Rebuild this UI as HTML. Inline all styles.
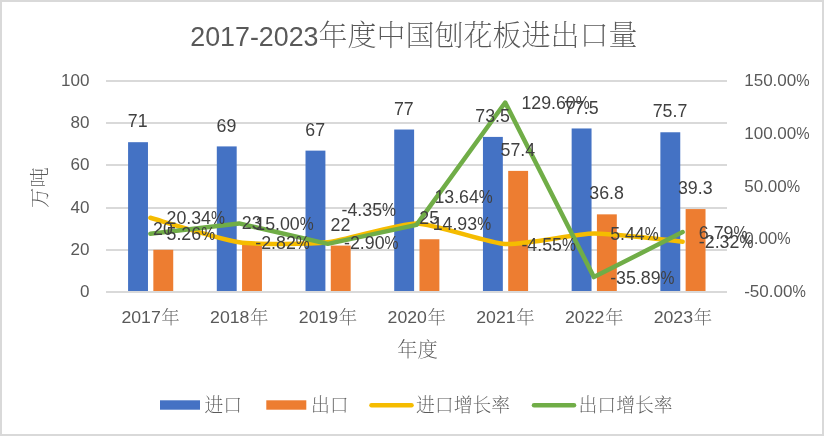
<!DOCTYPE html>
<html lang="zh"><head><meta charset="utf-8"><title>2017-2023年度中国刨花板进出口量</title>
<style>html,body{margin:0;padding:0;background:#fff}body{width:824px;height:436px;overflow:hidden}svg{display:block}
text{font-family:"Liberation Sans","Noto Serif CJK SC",sans-serif;fill:#595959}
.cj{font-family:"Noto Serif CJK SC","Liberation Serif",serif;font-weight:200}
.dl{fill:#404040}
</style></head><body>
<svg width="824" height="436" viewBox="0 0 824 436">
<rect x="0" y="0" width="824" height="436" fill="#ffffff"/>
<rect x="1" y="1" width="822" height="434" fill="none" stroke="#d9d9d9" stroke-width="2"/>
<line x1="106.00" y1="292.00" x2="727.00" y2="292.00" stroke="#d9d9d9" stroke-width="2"/>
<line x1="106.00" y1="250.00" x2="727.00" y2="250.00" stroke="#d9d9d9" stroke-width="2"/>
<line x1="106.00" y1="208.00" x2="727.00" y2="208.00" stroke="#d9d9d9" stroke-width="2"/>
<line x1="106.00" y1="165.00" x2="727.00" y2="165.00" stroke="#d9d9d9" stroke-width="2"/>
<line x1="106.00" y1="123.00" x2="727.00" y2="123.00" stroke="#d9d9d9" stroke-width="2"/>
<line x1="106.00" y1="81.00" x2="727.00" y2="81.00" stroke="#d9d9d9" stroke-width="2"/>
<rect x="128.08" y="142.19" width="19.89" height="148.81" fill="#4472c4"/>
<rect x="153.34" y="249.80" width="19.89" height="41.20" fill="#ed7d31"/>
<rect x="216.80" y="146.41" width="19.89" height="144.59" fill="#4472c4"/>
<rect x="242.06" y="243.47" width="19.89" height="47.53" fill="#ed7d31"/>
<rect x="305.51" y="150.63" width="19.89" height="140.37" fill="#4472c4"/>
<rect x="330.77" y="245.58" width="19.89" height="45.42" fill="#ed7d31"/>
<rect x="394.22" y="129.53" width="19.89" height="161.47" fill="#4472c4"/>
<rect x="419.49" y="239.25" width="19.89" height="51.75" fill="#ed7d31"/>
<rect x="482.94" y="136.91" width="19.89" height="154.09" fill="#4472c4"/>
<rect x="508.20" y="170.89" width="19.89" height="120.11" fill="#ed7d31"/>
<rect x="571.65" y="128.47" width="19.89" height="162.53" fill="#4472c4"/>
<rect x="596.91" y="214.35" width="19.89" height="76.65" fill="#ed7d31"/>
<rect x="660.37" y="132.27" width="19.89" height="158.73" fill="#4472c4"/>
<rect x="685.63" y="209.08" width="19.89" height="81.92" fill="#ed7d31"/>
<path d="M150.36 217.79 C159.23 220.23 221.33 239.77 239.07 242.23 C256.81 244.68 310.04 244.18 327.79 242.31 C345.53 240.44 398.76 223.32 416.50 223.50 C434.24 223.67 487.47 243.05 505.21 244.05 C522.96 245.05 576.19 233.75 593.93 233.51 C611.67 233.28 673.77 240.88 682.64 241.70" fill="none" stroke="#f5bc00" stroke-width="4.5" stroke-linecap="round" stroke-linejoin="round"/>
<polyline points="150.36,233.70 239.07,223.43 327.79,243.84 416.50,224.86 505.21,102.52 593.93,277.11 682.64,232.09" fill="none" stroke="#70ad47" stroke-width="4.5" stroke-linecap="round" stroke-linejoin="round"/>
<text x="80.02" y="297.03" font-size="17.05" textLength="9.48" lengthAdjust="spacingAndGlyphs">0</text>
<text x="70.55" y="254.83" font-size="17.05" textLength="18.95" lengthAdjust="spacingAndGlyphs">20</text>
<text x="70.55" y="212.63" font-size="17.05" textLength="18.95" lengthAdjust="spacingAndGlyphs">40</text>
<text x="70.55" y="170.43" font-size="17.05" textLength="18.95" lengthAdjust="spacingAndGlyphs">60</text>
<text x="70.55" y="128.23" font-size="17.05" textLength="18.95" lengthAdjust="spacingAndGlyphs">80</text>
<text x="61.07" y="86.03" font-size="17.05" textLength="28.43" lengthAdjust="spacingAndGlyphs">100</text>
<text x="744.20" y="297.03" font-size="17.05"><tspan textLength="48.35" lengthAdjust="spacingAndGlyphs">-50.00</tspan><tspan x="792.55" textLength="13.37" lengthAdjust="spacingAndGlyphs">%</tspan></text>
<text x="744.20" y="244.28" font-size="17.05"><tspan textLength="33.15" lengthAdjust="spacingAndGlyphs">0.00</tspan><tspan x="777.35" textLength="13.37" lengthAdjust="spacingAndGlyphs">%</tspan></text>
<text x="744.20" y="191.53" font-size="17.05"><tspan textLength="42.63" lengthAdjust="spacingAndGlyphs">50.00</tspan><tspan x="786.83" textLength="13.37" lengthAdjust="spacingAndGlyphs">%</tspan></text>
<text x="744.20" y="138.78" font-size="17.05"><tspan textLength="52.11" lengthAdjust="spacingAndGlyphs">100.00</tspan><tspan x="796.31" textLength="13.37" lengthAdjust="spacingAndGlyphs">%</tspan></text>
<text x="744.20" y="86.03" font-size="17.05"><tspan textLength="52.11" lengthAdjust="spacingAndGlyphs">150.00</tspan><tspan x="796.31" textLength="13.37" lengthAdjust="spacingAndGlyphs">%</tspan></text>
<text x="121.42" y="323.3" font-size="17.05"><tspan textLength="39.33" lengthAdjust="spacingAndGlyphs">2017</tspan><tspan class="cj" x="161.35" dy="0.6" font-size="18.55">年</tspan></text>
<text x="210.13" y="323.3" font-size="17.05"><tspan textLength="39.33" lengthAdjust="spacingAndGlyphs">2018</tspan><tspan class="cj" x="250.06" dy="0.6" font-size="18.55">年</tspan></text>
<text x="298.84" y="323.3" font-size="17.05"><tspan textLength="39.33" lengthAdjust="spacingAndGlyphs">2019</tspan><tspan class="cj" x="338.78" dy="0.6" font-size="18.55">年</tspan></text>
<text x="387.56" y="323.3" font-size="17.05"><tspan textLength="39.33" lengthAdjust="spacingAndGlyphs">2020</tspan><tspan class="cj" x="427.49" dy="0.6" font-size="18.55">年</tspan></text>
<text x="476.27" y="323.3" font-size="17.05"><tspan textLength="39.33" lengthAdjust="spacingAndGlyphs">2021</tspan><tspan class="cj" x="516.21" dy="0.6" font-size="18.55">年</tspan></text>
<text x="564.99" y="323.3" font-size="17.05"><tspan textLength="39.33" lengthAdjust="spacingAndGlyphs">2022</tspan><tspan class="cj" x="604.92" dy="0.6" font-size="18.55">年</tspan></text>
<text x="653.70" y="323.3" font-size="17.05"><tspan textLength="39.33" lengthAdjust="spacingAndGlyphs">2023</tspan><tspan class="cj" x="693.63" dy="0.6" font-size="18.55">年</tspan></text>
<text x="127.84" y="127.29" font-size="17.77" textLength="19.77" lengthAdjust="spacingAndGlyphs" class="dl">71</text>
<text x="153.11" y="234.90" font-size="17.77" textLength="19.77" lengthAdjust="spacingAndGlyphs" class="dl">20</text>
<text x="216.56" y="131.51" font-size="17.77" textLength="19.77" lengthAdjust="spacingAndGlyphs" class="dl">69</text>
<text x="241.82" y="228.57" font-size="17.77" textLength="19.77" lengthAdjust="spacingAndGlyphs" class="dl">23</text>
<text x="305.27" y="135.73" font-size="17.77" textLength="19.77" lengthAdjust="spacingAndGlyphs" class="dl">67</text>
<text x="330.53" y="230.68" font-size="17.77" textLength="19.77" lengthAdjust="spacingAndGlyphs" class="dl">22</text>
<text x="393.99" y="114.63" font-size="17.77" textLength="19.77" lengthAdjust="spacingAndGlyphs" class="dl">77</text>
<text x="419.25" y="224.35" font-size="17.77" textLength="19.77" lengthAdjust="spacingAndGlyphs" class="dl">25</text>
<text x="475.30" y="122.01" font-size="17.77" textLength="34.57" lengthAdjust="spacingAndGlyphs" class="dl">73.5</text>
<text x="500.56" y="155.99" font-size="17.77" textLength="34.57" lengthAdjust="spacingAndGlyphs" class="dl">57.4</text>
<text x="564.01" y="113.57" font-size="17.77" textLength="34.57" lengthAdjust="spacingAndGlyphs" class="dl">77.5</text>
<text x="589.27" y="199.45" font-size="17.77" textLength="34.57" lengthAdjust="spacingAndGlyphs" class="dl">36.8</text>
<text x="652.73" y="117.37" font-size="17.77" textLength="34.57" lengthAdjust="spacingAndGlyphs" class="dl">75.7</text>
<text x="677.99" y="194.18" font-size="17.77" textLength="34.57" lengthAdjust="spacingAndGlyphs" class="dl">39.3</text>
<text x="166.56" y="224.37" font-size="17.77" class="dl"><tspan textLength="44.45" lengthAdjust="spacingAndGlyphs">20.34</tspan><tspan x="211.01" textLength="13.94" lengthAdjust="spacingAndGlyphs">%</tspan></text>
<text x="166.56" y="240.28" font-size="17.77" class="dl"><tspan textLength="34.57" lengthAdjust="spacingAndGlyphs">5.26</tspan><tspan x="201.13" textLength="13.94" lengthAdjust="spacingAndGlyphs">%</tspan></text>
<text x="255.27" y="248.81" font-size="17.77" class="dl"><tspan textLength="40.54" lengthAdjust="spacingAndGlyphs">-2.82</tspan><tspan x="295.81" textLength="13.94" lengthAdjust="spacingAndGlyphs">%</tspan></text>
<text x="255.27" y="230.01" font-size="17.77" class="dl"><tspan textLength="44.45" lengthAdjust="spacingAndGlyphs">15.00</tspan><tspan x="299.72" textLength="13.94" lengthAdjust="spacingAndGlyphs">%</tspan></text>
<text x="343.99" y="248.89" font-size="17.77" class="dl"><tspan textLength="40.54" lengthAdjust="spacingAndGlyphs">-2.90</tspan><tspan x="384.53" textLength="13.94" lengthAdjust="spacingAndGlyphs">%</tspan></text>
<text x="341.49" y="216.22" font-size="17.77" class="dl"><tspan textLength="40.54" lengthAdjust="spacingAndGlyphs">-4.35</tspan><tspan x="382.03" textLength="13.94" lengthAdjust="spacingAndGlyphs">%</tspan></text>
<text x="432.70" y="230.08" font-size="17.77" class="dl"><tspan textLength="44.45" lengthAdjust="spacingAndGlyphs">14.93</tspan><tspan x="477.15" textLength="13.94" lengthAdjust="spacingAndGlyphs">%</tspan></text>
<text x="434.40" y="203.14" font-size="17.77" class="dl"><tspan textLength="44.45" lengthAdjust="spacingAndGlyphs">13.64</tspan><tspan x="478.85" textLength="13.94" lengthAdjust="spacingAndGlyphs">%</tspan></text>
<text x="521.41" y="250.63" font-size="17.77" class="dl"><tspan textLength="40.54" lengthAdjust="spacingAndGlyphs">-4.55</tspan><tspan x="561.95" textLength="13.94" lengthAdjust="spacingAndGlyphs">%</tspan></text>
<text x="521.41" y="109.10" font-size="17.77" class="dl"><tspan textLength="54.33" lengthAdjust="spacingAndGlyphs">129.60</tspan><tspan x="575.75" textLength="13.94" lengthAdjust="spacingAndGlyphs">%</tspan></text>
<text x="610.13" y="240.09" font-size="17.77" class="dl"><tspan textLength="34.57" lengthAdjust="spacingAndGlyphs">5.44</tspan><tspan x="644.70" textLength="13.94" lengthAdjust="spacingAndGlyphs">%</tspan></text>
<text x="610.13" y="283.70" font-size="17.77" class="dl"><tspan textLength="50.42" lengthAdjust="spacingAndGlyphs">-35.89</tspan><tspan x="660.55" textLength="13.94" lengthAdjust="spacingAndGlyphs">%</tspan></text>
<text x="698.84" y="248.28" font-size="17.77" class="dl"><tspan textLength="40.54" lengthAdjust="spacingAndGlyphs">-2.32</tspan><tspan x="739.38" textLength="13.94" lengthAdjust="spacingAndGlyphs">%</tspan></text>
<text x="698.84" y="238.67" font-size="17.77" class="dl"><tspan textLength="34.57" lengthAdjust="spacingAndGlyphs">6.79</tspan><tspan x="733.41" textLength="13.94" lengthAdjust="spacingAndGlyphs">%</tspan></text>
<text x="190.30" y="45.8" font-size="26.80"><tspan textLength="128.20" lengthAdjust="spacingAndGlyphs">2017-2023</tspan><tspan class="cj" x="318.50" font-size="29.00" textLength="319.00">年度中国刨花板进出口量</tspan></text>
<text class="cj" x="417.60" y="356.8" font-size="20.30" text-anchor="middle">年度</text>
<text class="cj" transform="translate(47.2,187.6) rotate(-90)" font-size="20.30" text-anchor="middle">万吨</text>
<rect x="160" y="400.3" width="40" height="9.4" fill="#4472c4"/>
<text class="cj" x="204.5" y="411.5" font-size="18.85">进口</text>
<rect x="266.3" y="400.3" width="40" height="9.4" fill="#ed7d31"/>
<text class="cj" x="311" y="411.5" font-size="18.85">出口</text>
<line x1="371.5" y1="405.3" x2="411.5" y2="405.3" stroke="#f5bc00" stroke-width="4.5" stroke-linecap="round"/>
<text class="cj" x="416" y="411.5" font-size="18.85">进口增长率</text>
<line x1="534" y1="405.3" x2="574" y2="405.3" stroke="#70ad47" stroke-width="4.5" stroke-linecap="round"/>
<text class="cj" x="578.5" y="411.5" font-size="18.85">出口增长率</text>
</svg></body></html>
